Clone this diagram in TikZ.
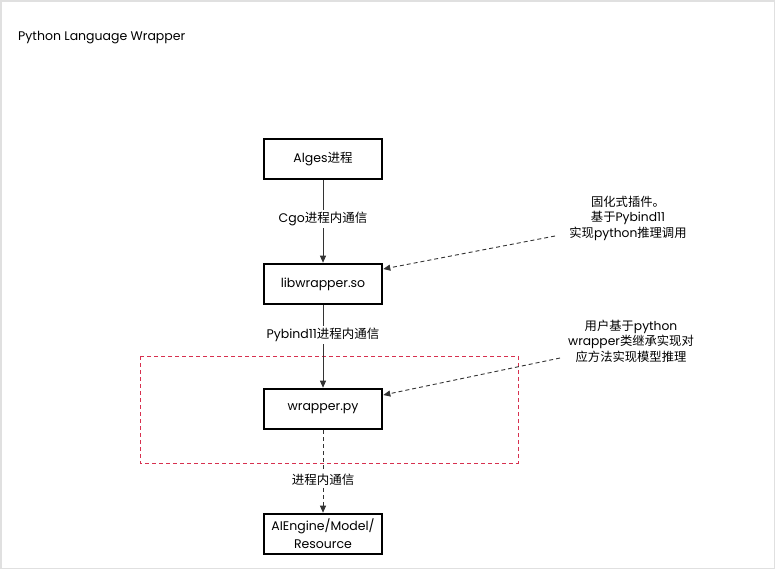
\documentclass[tikz,border=0pt]{standalone}
\usepackage{fontspec}
\setmainfont{Poppins}
\newfontfamily\cjk{Noto Sans CJK SC}
\usetikzlibrary{arrows.meta}
\definecolor{framegray}{HTML}{E0E0E0}
\definecolor{linegray}{HTML}{333333}
\definecolor{groupred}{HTML}{D7304F}
\tikzset{
  procbox/.style={draw=black, line width=2.6pt, fill=white, minimum width=118pt, minimum height=40pt, align=center, font=\fontsize{12.5pt}{18pt}\selectfont, inner sep=2pt},
  lbl/.style={font=\fontsize{12.5pt}{15pt}\selectfont, align=center, inner sep=2pt, fill=white},
  note/.style={font=\fontsize{12.3pt}{15.5pt}\selectfont, align=center, inner sep=1pt},
  conn/.style={draw=linegray, line width=0.9pt},
  arr/.style={conn, -{Triangle[length=7pt,width=6pt]}},
  dconn/.style={conn, dash pattern=on 4pt off 3pt},
  darr/.style={dconn, -{Triangle[length=7pt,width=6pt]}},
  grp/.style={draw=groupred, line width=1pt, dash pattern=on 4pt off 3pt}
}
\begin{document}
\begin{tikzpicture}[x=1pt,y=-1pt]
\useasboundingbox (0,0) rectangle (776,571);
\draw[framegray, line width=1.2pt] (1,1) rectangle (774.5,568.5);
\node[anchor=west, font=\fontsize{12.5pt}{15pt}\selectfont, inner sep=0pt] (title) at (18,38) {Python Language Wrapper};

\draw[grp] (140,356) rectangle (518,463);

\node[procbox] (alges) at (323,159) {Alges{\cjk 进程}};
\node[procbox] (libw) at (323,284) {libwrapper.so};
\node[procbox] (wpy) at (323,409) {wrapper.py};
\node[procbox] (aie) at (323,534) {AIEngine/Model/\\Resource};

\node[lbl] (l1) at (323,219) {Cgo{\cjk 进程内通信}};
\node[lbl] (l2) at (323,335) {Pybind11{\cjk 进程内通信}};
\node[lbl] (l3) at (323,480) {\cjk 进程内通信};

\draw[conn] (alges) -- (l1);
\draw[arr] (l1) -- (libw);
\draw[conn] (libw) -- (l2);
\draw[arr] (l2) -- (wpy);
\draw[dconn] (wpy) -- (l3);
\draw[darr] (l3) -- (aie);

\node[note] (n1) at (628,218) {{\cjk 固化式插件。}\\{\cjk 基于}Pybind11\\{\cjk 实现}python{\cjk 推理调用}};
\node[note] (n2) at (631,341) {{\cjk 用户基于}python\\wrapper{\cjk 类继承实现对}\\{\cjk 应方法实现模型推理}};

\coordinate (n1s) at (555,236);
\coordinate (n2s) at (560,358);
\draw[darr] (n1s) -- (libw.east |- 0,269);
\draw[darr] (n2s) -- (wpy.east |- 0,395);
\end{tikzpicture}
\end{document}
